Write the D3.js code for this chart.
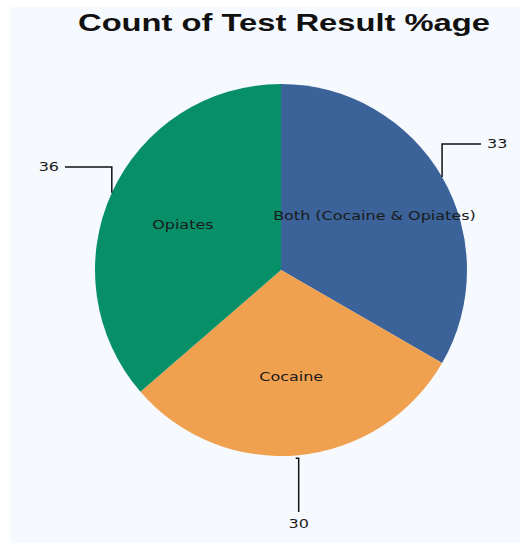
<!DOCTYPE html>
<html>
<head>
<meta charset="utf-8">
<script src="https://cdn.jsdelivr.net/npm/d3@7"></script>
<style>
  html, body { margin: 0; padding: 0; background: #ffffff; }
  svg { display: block; }
</style>
</head>
<body>
<svg id="chart" width="526" height="545"></svg>
<script>
// Test result categories, counts and colours (clockwise from 12 o'clock)
const categories = ["Both (Cocaine & Opiates)", "Cocaine", "Opiates"];
const counts = [33, 30, 36];
const colors = ["#3b6399", "#efa14f", "#079068"];
const title = "Count of Test Result %age";

const svg = d3.select("#chart");

// chart panel
svg.append("rect")
  .attr("x", 10).attr("y", 7)
  .attr("width", 510).attr("height", 536)
  .attr("fill", "#f6f9fd");

// title, glyphs stretched horizontally
svg.append("text")
  .attr("x", 284).attr("y", 31)
  .attr("text-anchor", "middle")
  .attr("font-family", "Liberation Sans, Arial, sans-serif")
  .attr("font-weight", "bold")
  .attr("font-size", 24)
  .attr("textLength", 412)
  .attr("lengthAdjust", "spacingAndGlyphs")
  .attr("fill", "#111")
  .text(title);

const cx = 281, cy = 270, R = 186;
const stretch = 1.23;   // horizontal widening of the small labels
const g = svg.append("g").attr("transform", `translate(${cx},${cy})`);

const data = categories.map((c, i) => ({ name: c, value: counts[i], color: colors[i] }));
const pie = d3.pie().value(d => d.value).sort(null);
const arcs = pie(data);

const arc = d3.arc().innerRadius(0).outerRadius(R);
const labelArc = d3.arc().innerRadius(R * 0.58).outerRadius(R * 0.58);

g.selectAll("path.slice")
  .data(arcs)
  .join("path")
  .attr("class", "slice")
  .attr("d", arc)
  .attr("fill", d => d.data.color);

// category names inside the slices
g.selectAll("text.name")
  .data(arcs)
  .join("text")
  .attr("class", "name")
  .attr("transform", d => `translate(${labelArc.centroid(d)}) scale(${stretch},1)`)
  .attr("text-anchor", "middle")
  .attr("dominant-baseline", "middle")
  .attr("font-family", "DejaVu Sans, Tahoma, sans-serif")
  .attr("font-size", 13)
  .attr("fill", "#1a1a1a")
  .text(d => d.data.name);

// leader lines with value labels
const mid = d => (d.startAngle + d.endAngle) / 2;
const edge = d => [Math.sin(mid(d)) * R, -Math.cos(mid(d)) * R];

const leaders = [
  { idx: 0, elbowY: -126, endX: 200 },   // right side, horizontal out to the right
  { idx: 1, elbowY: 242, endX: null },   // bottom, straight down
  { idx: 2, elbowY: -103, endX: -216 }   // left side, horizontal out to the left
];

leaders.forEach(l => {
  const d = arcs[l.idx];
  const [x0, y0] = edge(d);
  let pts;
  if (l.endX === null) {
    pts = [[x0 - 3, y0 + 3], [x0, y0 + 3], [x0, l.elbowY]];
  } else {
    pts = [[x0, y0], [x0, l.elbowY], [l.endX, l.elbowY]];
  }
  g.append("path")
    .attr("d", d3.line()(pts))
    .attr("fill", "none")
    .attr("stroke", "#111")
    .attr("stroke-width", 1.5);

  let tx, ty, anchor;
  if (l.endX === null) {
    tx = x0; ty = l.elbowY + 12; anchor = "middle";
  } else if (l.endX > 0) {
    tx = l.endX + 6; ty = l.elbowY; anchor = "start";
  } else {
    tx = l.endX - 6; ty = l.elbowY; anchor = "end";
  }
  g.append("text")
    .attr("transform", `translate(${tx},${ty}) scale(${stretch},1)`)
    .attr("text-anchor", anchor)
    .attr("dominant-baseline", "middle")
    .attr("font-family", "DejaVu Sans, Tahoma, sans-serif")
    .attr("font-size", 13)
    .attr("fill", "#1a1a1a")
    .text(d.data.value);
});
</script>
</body>
</html>
